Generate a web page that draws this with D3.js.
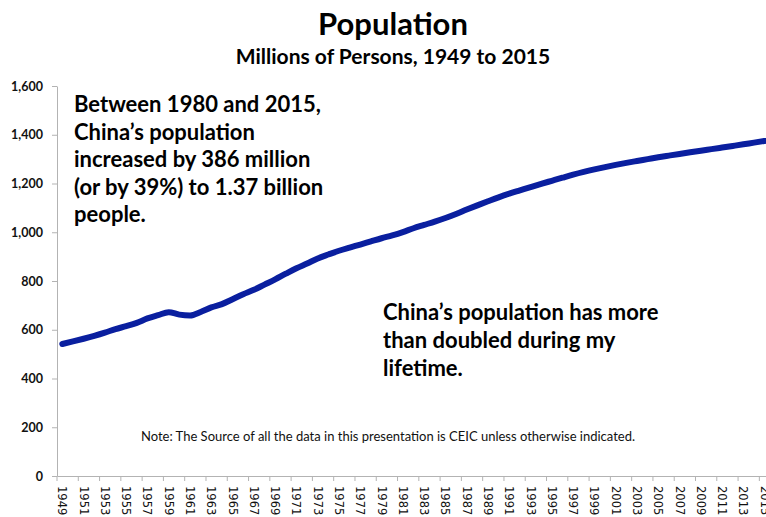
<!DOCTYPE html>
<html>
<head>
<meta charset="utf-8">
<script src="https://cdn.jsdelivr.net/npm/d3@7"></script>
<style>
  html, body { margin: 0; padding: 0; background: #fff; overflow: hidden; }
  svg { display: block; }
  .axis path, .axis line { stroke: #b3b3b3; }
</style>
</head>
<body>
<div id="chart"></div>
<script>
const years = d3.range(1949, 2016);
const population = [
  541.7, 552.0, 563.0, 574.8, 588.0, 602.7, 614.7, 628.3, 646.5, 659.9,
  672.1, 662.1, 658.6, 673.0, 691.7, 705.0, 725.4, 745.4, 763.7, 785.3,
  806.7, 829.9, 852.3, 871.8, 892.1, 908.6, 924.2, 937.2, 949.7, 962.6,
  975.4, 987.1, 1000.7, 1016.5, 1030.1, 1043.6, 1058.5, 1075.1, 1093.0, 1110.3,
  1127.0, 1143.3, 1158.2, 1171.7, 1185.2, 1198.5, 1211.2, 1223.9, 1236.3, 1247.6,
  1257.9, 1267.4, 1276.3, 1284.5, 1292.3, 1299.9, 1307.6, 1314.5, 1321.3, 1328.0,
  1334.5, 1340.9, 1347.4, 1354.0, 1360.7, 1367.8, 1374.6
];
const yTicks = [0, 200, 400, 600, 800, 1000, 1200, 1400, 1600];
const titleText = 'Population';
const subtitleText = 'Millions of Persons, 1949 to 2015';
const noteText = 'Note: The Source of all the data in this presentation is CEIC unless otherwise indicated.';
const leftNote = ['Between 1980 and 2015,', 'China\u2019s population', 'increased by 386 million', '(or by 39%) to 1.37 billion', 'people.'];
const rightNote = ['China\u2019s population has more', 'than doubled during my', 'lifetime.'];

const W = 766, H = 517;
const font = 'Lato, "Noto Sans", sans-serif';
const svg = d3.select('#chart').append('svg').attr('width', W).attr('height', H);

const x = d3.scaleBand().domain(years).range([57, 770]).padding(0);
const y = d3.scaleLinear().domain([0, 1600]).range([476, 86]);
const cx = d => x(d) + x.bandwidth() / 2;

// titles
svg.append('text').attr('x', 393).attr('y', 35).attr('text-anchor', 'middle')
  .attr('font-family', font).attr('font-weight', 'bold').attr('font-size', '31px').text(titleText);
svg.append('text').attr('x', 393).attr('y', 64).attr('text-anchor', 'middle')
  .attr('font-family', font).attr('font-weight', 'bold').attr('font-size', '21px').text(subtitleText);

// y axis
svg.append('g').attr('class', 'axis').attr('transform', 'translate(57,0)')
  .call(d3.axisLeft(y).tickValues(yTicks).tickFormat(d3.format(',')).tickSize(5).tickPadding(9).tickSizeOuter(0))
  .selectAll('text').attr('font-family', font).attr('font-weight', 'bold').attr('font-size', '12.5px').attr('fill', '#111');

// x axis: labels every other year, tick marks on band boundaries
const xAxis = svg.append('g').attr('class', 'axis').attr('transform', 'translate(0,476)')
  .call(d3.axisBottom(x).tickValues(years.filter((d, i) => i % 2 === 0)).tickSize(5).tickSizeOuter(0));
xAxis.selectAll('.tick line').attr('x1', -x.bandwidth() / 2).attr('x2', -x.bandwidth() / 2);
xAxis.selectAll('text')
  .attr('transform', 'rotate(90)').attr('x', 10).attr('y', 0).attr('dy', '0.35em')
  .attr('text-anchor', 'start').attr('font-family', '"DejaVu Sans", sans-serif')
  .attr('font-size', '11.5px').attr('fill', '#111');

// line
const line = d3.line().x((d, i) => cx(years[i])).y(d => y(d)).curve(d3.curveMonotoneX);
svg.append('path').datum(population).attr('d', line)
  .attr('fill', 'none').attr('stroke', '#0a1f9f').attr('stroke-width', 6)
  .attr('stroke-linecap', 'round').attr('stroke-linejoin', 'round');

// annotations
const addLines = (lines, x0, y0, dy) => {
  svg.append('text').attr('font-family', font).attr('font-weight', 'bold').attr('font-size', '22px').attr('fill', '#000')
    .selectAll('tspan').data(lines).enter().append('tspan')
    .attr('x', x0).attr('y', (d, i) => y0 + i * dy).text(d => d);
};
addLines(leftNote, 74, 112, 27.5);
addLines(rightNote, 383, 320, 28);

svg.append('text').attr('x', 388).attr('y', 441).attr('text-anchor', 'middle')
  .attr('font-family', font).attr('font-size', '13px').attr('fill', '#111').text(noteText);
</script>
</body>
</html>
